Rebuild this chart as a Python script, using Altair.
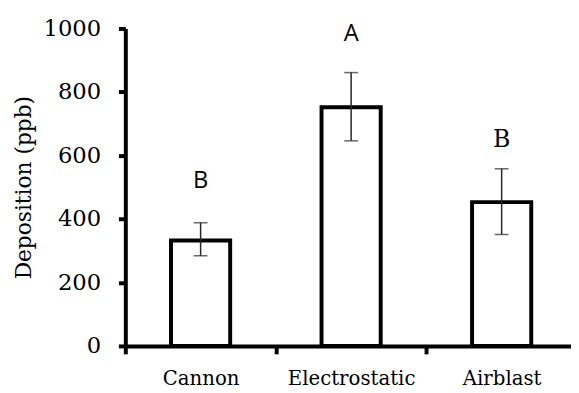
import altair as alt
import pandas as pd

methods = ["Cannon", "Electrostatic", "Airblast"]
deposition = [332, 752, 453]
err_low = [284, 646, 351]
err_high = [388, 861, 558]
letters = ["B", "A", "B"]
letter_pos = [519, 982, 649]
letter_style = ["sans", "sans", "serif"]
y_ticks = [0, 200, 400, 600, 800, 1000]

df = pd.DataFrame({
    "method": methods,
    "deposition": deposition,
    "lo": err_low,
    "hi": err_high,
    "letter": letters,
    "lpos": letter_pos,
    "style": letter_style,
})

x_enc = alt.X(
    "method:N",
    sort=methods,
    scale=alt.Scale(range=[0, 458], paddingInner=0, paddingOuter=0),
    axis=alt.Axis(
        title=None, tickBand="extent", labelAngle=0,
        labelFont="DejaVu Serif", labelFontSize=20, labelColor="#000",
        labelPadding=15, tickSize=8, tickWidth=4, tickColor="black",
        domainWidth=4, domainColor="black",
    ),
)
y_scale = alt.Scale(domain=[0, 1000], nice=False)

base = alt.Chart(df)

bars = base.mark_bar(width=60, fill="white", stroke="black", strokeWidth=4).encode(
    x=x_enc,
    y=alt.Y(
        "deposition:Q",
        scale=y_scale,
        axis=alt.Axis(
            title="Deposition (ppb)", values=y_ticks, grid=False, format="d",
            labelFont="DejaVu Serif", labelFontSize=23, labelColor="#000",
            labelPadding=18, tickSize=7, tickWidth=4, tickColor="black",
            domainWidth=4, domainColor="black",
            titleFont="DejaVu Serif", titleFontSize=22, titleFontWeight="normal",
            titleColor="#000", titlePadding=8,
        ),
    ),
)

err = base.mark_rule(color="#262626", strokeWidth=1.5).encode(
    x=alt.X("method:N", sort=methods),
    y=alt.Y("lo:Q", scale=y_scale),
    y2="hi:Q",
)
cap_lo = base.mark_tick(color="#262626", size=14, thickness=1.5, orient="horizontal").encode(
    x=alt.X("method:N", sort=methods),
    y=alt.Y("lo:Q", scale=y_scale),
)
cap_hi = base.mark_tick(color="#262626", size=14, thickness=1.5, orient="horizontal").encode(
    x=alt.X("method:N", sort=methods),
    y=alt.Y("hi:Q", scale=y_scale),
)

txt_sans = base.transform_filter(alt.datum.style == "sans").mark_text(
    font="Open Sans", fontSize=24, color="black", baseline="middle"
).encode(
    x=alt.X("method:N", sort=methods),
    y=alt.Y("lpos:Q", scale=y_scale),
    text="letter:N",
)
txt_serif = base.transform_filter(alt.datum.style == "serif").mark_text(
    font="DejaVu Serif", fontSize=24, color="#000", baseline="middle"
).encode(
    x=alt.X("method:N", sort=methods),
    y=alt.Y("lpos:Q", scale=y_scale),
    text="letter:N",
)

chart = alt.layer(bars, err, cap_lo, cap_hi, txt_sans, txt_serif).properties(
    width=452,
    height=322,
    autosize=alt.AutoSizeParams(type="none"),
    padding={"left": 119, "top": 18, "right": 0, "bottom": 45},
).configure_view(stroke=None)

chart.save("out.html", embed_options={"renderer": "svg", "actions": False})
